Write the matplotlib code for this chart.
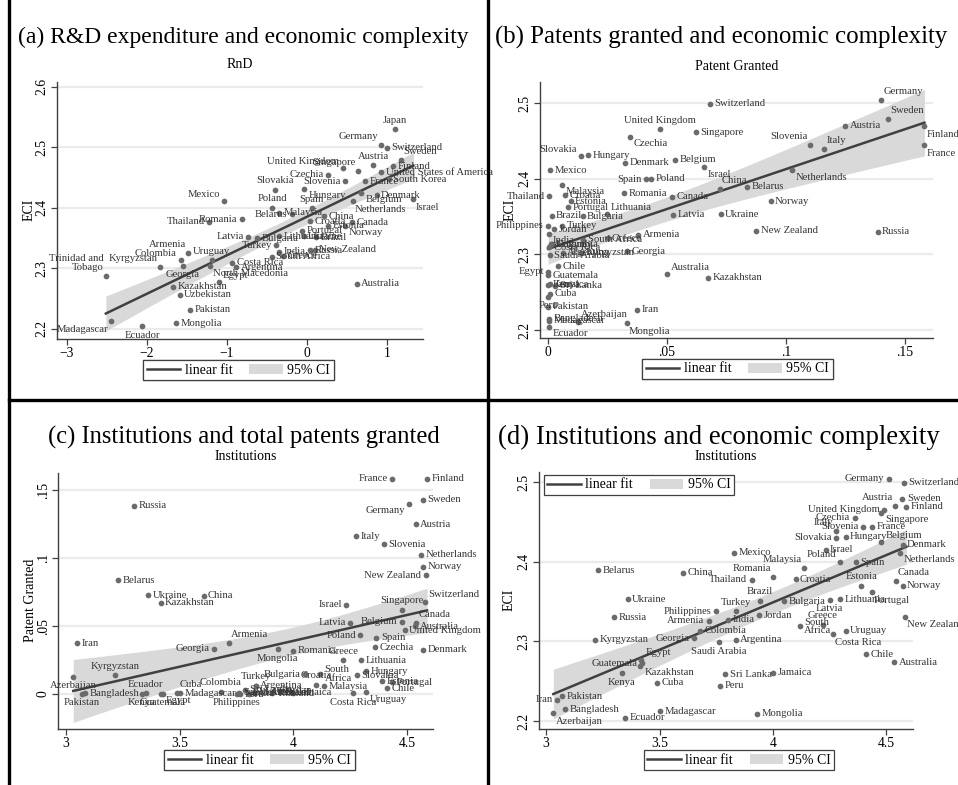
import matplotlib.pyplot as plt
import numpy as np
from matplotlib.lines import Line2D
from matplotlib.patches import Patch

plt.rcParams['font.family'] = ['Liberation Serif', 'DejaVu Serif']

# country-level data (nan = not in that panel)
countries = [
    'Germany', 'Switzerland', 'Sweden', 'Finland', 'Austria', 'Japan',
    'United States of America', 'South Korea', 'Singapore', 'United Kingdom',
    'Czechia', 'Slovenia', 'France', 'Italy', 'Slovakia', 'Hungary', 'Denmark',
    'Belgium', 'Israel', 'Netherlands', 'Mexico', 'Malaysia', 'Spain', 'Poland',
    'Romania', 'Canada', 'Thailand', 'Croatia', 'Estonia', 'Portugal',
    'Lithuania', 'Latvia', 'Brazil', 'Bulgaria', 'Philippines', 'Turkey',
    'Jordan', 'India', 'Greece', 'South Africa', 'Armenia', 'Georgia',
    'Kyrgyzstan', 'Saudi Arabia', 'Colombia', 'Argentina', 'Uruguay',
    'Costa Rica', 'Egypt', 'Chile', 'Guatemala', 'Jamaica', 'Sri Lanka',
    'Kenya', 'Cuba', 'Peru', 'Pakistan', 'Iran', 'Bangladesh', 'Azerbaijan',
    'Madagascar', 'Ecuador', 'Mongolia', 'Australia', 'Kazakhstan', 'China',
    'Belarus', 'Norway', 'Ukraine', 'New Zealand', 'Russia',
    'Trinidad and Tobago', 'North Macedonia', 'Uzbekistan',
]
eci = [
    2.504, 2.499, 2.479, 2.469, 2.470, 2.530,
    2.459, 2.447, 2.461, 2.465,
    2.455, 2.444, 2.444, 2.439, 2.430, 2.431, 2.421,
    2.425, 2.415, 2.411, 2.411, 2.392, 2.399, 2.400,
    2.381, 2.376, 2.377, 2.378, 2.370, 2.362,
    2.353, 2.352, 2.351, 2.350, 2.338, 2.338,
    2.333, 2.327, 2.321, 2.319, 2.326, 2.304,
    2.302, 2.299, 2.313, 2.302, 2.313,
    2.309, 2.277, 2.284, 2.2725, 2.2606, 2.2586,
    2.260, 2.248, 2.244, 2.231, 2.227, 2.215, 2.210,
    2.212, 2.204, 2.209, 2.274, 2.269, 2.386,
    2.389, 2.370, 2.353, 2.331, 2.330,
    2.288, 2.303, 2.256,
]
rnd = [
    0.92, 1.00, 1.18, 1.08, 0.83, 1.10,
    0.93, 1.02, 0.64, 0.45,
    0.27, 0.48, 0.73, np.nan, -0.40, -0.03, 0.87,
    0.68, 1.33, 0.57, -1.03, -0.35, 0.06, -0.43,
    -0.81, 0.56, -1.22, 0.04, 0.27, -0.06,
    -0.35, -0.73, 0.12, -0.62, np.nan, -0.38,
    np.nan, -0.35, -0.30, -0.44, -1.48, -1.55,
    -1.83, np.nan, -1.575, -0.88, -1.19,
    -0.93, -1.10, np.nan, np.nan, np.nan, np.nan,
    np.nan, np.nan, np.nan, -1.46, np.nan, np.nan, np.nan,
    -2.45, -2.06, -1.63, 0.62, -1.67, 0.22,
    -0.19, 0.47, -0.04, 0.10, 0.04,
    -2.51, -1.215, -1.59,
]
patents = [
    0.1400, 0.0680, 0.1430, 0.1582, 0.1250, np.nan,
    np.nan, np.nan, 0.0620, 0.0470,
    0.0345, 0.1100, 0.1582, 0.1160, 0.0138, 0.0168, 0.0325,
    0.0533, 0.0655, 0.1025, 0.0010, 0.0058, 0.0413, 0.0432,
    0.0318, 0.0520, 0.0005, 0.0070, 0.0095, 0.0085,
    0.0248, 0.0525, 0.0015, 0.0145, 0.0000, 0.0060,
    0.0025, 0.0003, 0.0250, 0.0148, 0.0378, 0.0332,
    0.0140, 0.0008, 0.0017, 0.0062, 0.0012,
    0.0005, 0.0000, 0.0042, 0.0000, 0.0010, 0.0030,
    0.0000, 0.0010, 0.0000, 0.0000, 0.0375, 0.0005, 0.0127,
    0.0005, 0.0005, 0.0330, 0.0500, 0.0672, 0.0722,
    0.0835, 0.0935, 0.0725, 0.0875, 0.1385,
    np.nan, np.nan, np.nan,
]
institutions = [
    4.510, 4.577, 4.570, 4.588, 4.538, np.nan,
    np.nan, np.nan, 4.478, 4.491,
    4.360, 4.398, 4.435, 4.277, 4.278, 4.320, 4.571,
    4.478, 4.232, 4.560, 3.828, 4.135, 4.365, 4.295,
    4.000, 4.540, 3.906, 4.100, 4.390, 4.435,
    4.297, 4.250, 3.943, 4.050, 3.750, 3.835,
    3.940, 3.803, 4.220, 4.118, 3.717, 3.652,
    3.215, 3.763, 3.680, 3.835, 4.320,
    4.264, 3.420, 4.412, 3.425, 4.000, 3.789,
    3.333, 3.490, 3.767, 3.071, 3.050, 3.084, 3.032,
    3.502, 3.350, 3.931, 4.535, 3.416, 3.605,
    3.230, 4.571, 3.360, 4.582, 3.300,
    np.nan, np.nan, np.nan,
]

titles = ['(a) R&D expenditure and economic complexity',
          '(b) Patents granted and economic complexity',
          '(c) Institutions and total patents granted',
          '(d) Institutions and economic complexity']
subtitles = ['RnD', 'Patent Granted', 'Institutions', 'Institutions']

# label clock positions (Stata style, default 3 o'clock)
pos_a = {'Japan': 12, 'Germany': 11, 'Sweden': 1, 'Singapore': 11, 'Austria': 12,
         'United Kingdom': 10, 'Czechia': 9, 'Slovenia': 9, 'Slovakia': 12,
         'Hungary': 4, 'Israel': 5, 'Belgium': 4, 'Netherlands': 5, 'Poland': 12,
         'Spain': 12, 'Romania': 9, 'Belarus': 9, 'Norway': 4, 'Latvia': 9,
         'Turkey': 9, 'Uruguay': 12, 'North Macedonia': 4, 'Egypt': 2,
         'Mexico': 10, 'Thailand': 9, 'Armenia': 11, 'Colombia': 10,
         'Kyrgyzstan': 11, 'Georgia': 6, 'Trinidad and Tobago': 11,
         'Madagascar': 7, 'Ecuador': 6}
pos_b = {'United Kingdom': 12, 'Czechia': 4, 'Slovakia': 10, 'Israel': 4,
         'Malaysia': 4, 'Spain': 9, 'Thailand': 9, 'Lithuania': 2,
         'Philippines': 9, 'India': 4, 'Egypt': 9, 'Peru': 6, 'Azerbaijan': 1,
         'Ecuador': 4, 'Mongolia': 5, 'Australia': 2, 'Germany': 1, 'Sweden': 1,
         'Finland': 5, 'France': 5, 'Slovenia': 11, 'Italy': 1,
         'Netherlands': 4, 'China': 1}
pos_c = {'Georgia': 9, 'Armenia': 1, 'Kyrgyzstan': 12, 'Azerbaijan': 6,
         'France': 9, 'Germany': 8, 'New Zealand': 9, 'Switzerland': 2,
         'Israel': 9, 'Singapore': 12, 'Latvia': 9, 'Belgium': 9, 'Canada': 1,
         'Poland': 9, 'Mongolia': 6, 'Greece': 12, 'Bulgaria': 9, 'Croatia': 12,
         'Uruguay': 4, 'Costa Rica': 6, 'Turkey': 12, 'Colombia': 12,
         'Cuba': 1, 'Ecuador': 12, 'Kenya': 6, 'Egypt': 4, 'Guatemala': 6,
         'Pakistan': 6, 'Philippines': 6}
pos_d = {'Philippines': 9, 'Armenia': 9, 'Georgia': 9, 'Guatemala': 9,
         'Egypt': 2, 'Kazakhstan': 4, 'Kenya': 6, 'Iran': 9, 'Azerbaijan': 5,
         'Saudi Arabia': 6, 'Greece': 12, 'Costa Rica': 5, 'New Zealand': 5,
         'Germany': 9, 'United Kingdom': 9, 'Austria': 11, 'Singapore': 4,
         'Czechia': 9, 'Italy': 11, 'Slovenia': 9, 'Slovakia': 9, 'Belgium': 2,
         'Netherlands': 4, 'Poland': 10, 'Malaysia': 11, 'Romania': 11,
         'Thailand': 9, 'Estonia': 12, 'Canada': 1, 'Portugal': 5,
         'Brazil': 12, 'Latvia': 6, 'Turkey': 12}
wrap_a = {'Trinidad and Tobago': 'Trinidad and\nTobago'}
wrap_cd = {'South Africa': 'South\nAfrica'}

dot_col = '#6b6b6b'
txt_col = '#353535'
fit_col = '#404040'
ci_col = '#d9d9d9'


def clock(p, r=3.2):
    ang = np.deg2rad(p * 30)
    dx, dy = r * np.sin(ang), r * np.cos(ang)
    ha = 'left' if dx > 0.5 else 'right' if dx < -0.5 else 'center'
    va = 'bottom' if dy > 0.5 else 'top' if dy < -0.5 else 'center'
    return dx, dy, ha, va


def draw_panel(ax, xv, yv, pos, wrap):
    xv = np.array(xv, dtype=float)
    yv = np.array(yv, dtype=float)
    ok = ~np.isnan(xv) & ~np.isnan(yv)
    x, y = xv[ok], yv[ok]
    names = [c for c, k in zip(countries, ok) if k]
    # linear fit with 95% CI of the mean
    b, a = np.polyfit(x, y, 1)
    n = len(x)
    s = np.sqrt(np.sum((y - (a + b * x)) ** 2) / (n - 2))
    xs = np.linspace(x.min(), x.max(), 100)
    se = s * np.sqrt(1 / n + (xs - x.mean()) ** 2 / np.sum((x - x.mean()) ** 2))
    t = 1.96 + 2.4 / (n - 2)
    ax.fill_between(xs, a + b * xs - t * se, a + b * xs + t * se,
                    color=ci_col, lw=0, zorder=1)
    ax.plot(xs, a + b * xs, color=fit_col, lw=1.8, zorder=2)
    ax.scatter(x, y, s=17, color=dot_col, lw=0, zorder=3)
    for xi, yi, nm in zip(x, y, names):
        dx, dy, ha, va = clock(pos.get(nm, 3))
        ax.annotate(wrap.get(nm, nm), (xi, yi), xytext=(dx, dy),
                    textcoords='offset points', ha=ha, va=va,
                    fontsize=7.7, color=txt_col, zorder=4, linespacing=0.9)


def style(ax, xlim, ylim, xt, xtl, yt, ytl):
    ax.set_xlim(xlim)
    ax.set_ylim(ylim)
    ax.set_xticks(xt)
    ax.set_xticklabels(xtl)
    ax.set_yticks(yt)
    ax.set_yticklabels(ytl, rotation=90, va='center')
    for sp in ['top', 'right']:
        ax.spines[sp].set_visible(False)
    for sp in ['left', 'bottom']:
        ax.spines[sp].set_color('#404040')
        ax.spines[sp].set_linewidth(1.0)
    ax.tick_params(direction='out', length=4, width=0.9, color='#404040',
                   labelsize=9.8, pad=2)
    ax.grid(axis='y', color='#ebebeb', lw=1.6)
    ax.set_axisbelow(True)


W, H = 958, 785
fig = plt.figure(figsize=(W / 100, H / 100), dpi=100)


def box(l, r, t, b):
    return [l / W, 1 - b / H, (r - l) / W, (b - t) / H]


ax_a = fig.add_axes(box(57, 423, 82, 339))
ax_b = fig.add_axes(box(540, 933, 82, 338))
ax_c = fig.add_axes(box(58, 433, 473, 729))
ax_d = fig.add_axes(box(539, 913, 472, 729))

draw_panel(ax_a, rnd, eci, pos_a, wrap_a)
draw_panel(ax_b, patents, eci, pos_b, {})
draw_panel(ax_c, institutions, patents, pos_c, wrap_cd)
draw_panel(ax_d, institutions, eci, pos_d, wrap_cd)

style(ax_a, (-3.12, 1.45), (2.183, 2.608), [-3, -2, -1, 0, 1],
      ['\u22123', '\u22122', '\u22121', '0', '1'],
      [2.2, 2.3, 2.4, 2.5, 2.6], ['2.2', '2.3', '2.4', '2.5', '2.6'])
style(ax_b, (-0.0034, 0.1618), (2.1894, 2.5277), [0, 0.05, 0.1, 0.15],
      ['0', '.05', '.1', '.15'], [2.2, 2.3, 2.4, 2.5],
      ['2.2', '2.3', '2.4', '2.5'])
style(ax_c, (2.965, 4.614), (-0.0257, 0.1625), [3, 3.5, 4, 4.5],
      ['3', '3.5', '4', '4.5'], [0, 0.05, 0.1, 0.15],
      ['0', '.05', '.1', '.15'])
style(ax_d, (2.969, 4.617), (2.19, 2.5125), [3, 3.5, 4, 4.5],
      ['3', '3.5', '4', '4.5'], [2.2, 2.3, 2.4, 2.5],
      ['2.2', '2.3', '2.4', '2.5'])

# titles, subtitles, y labels
title_pos = [(243, 37, 17), (721.5, 37, 17.9), (244, 437, 17.7), (718.5, 437, 19.3)]
for (cx, cy, fs), txt in zip(title_pos, titles):
    fig.text(cx / W, 1 - cy / H, txt, fontsize=fs, ha='center', va='center')
for (cx, cy), txt in zip([(240, 65), (737, 66), (246, 457), (726, 457)], subtitles):
    fig.text(cx / W, 1 - cy / H, txt, fontsize=10, ha='center', va='center')
for (cx, cy), txt in zip([(29, 210), (510, 210), (30, 600), (509, 600)],
                         ['ECI', 'ECI', 'Patent Granted', 'ECI']):
    fig.text(cx / W, 1 - cy / H, txt, fontsize=10, ha='center', va='center',
             rotation=90)

# legends
handles = [Line2D([], [], color=fit_col, lw=1.8), Patch(color=ci_col, lw=0)]
labels = ['linear fit', '95% CI']
for ax, (cx, cy) in zip([ax_a, ax_b, ax_c, ax_d],
                        [(238.5, 370), (737.5, 369), (259.5, 760), (739, 760)]):
    leg = ax.legend(handles, labels, ncol=2, loc='center',
                    bbox_to_anchor=(cx / W, 1 - cy / H),
                    bbox_transform=fig.transFigure, fontsize=10,
                    frameon=True, fancybox=False, edgecolor='#404040',
                    framealpha=1, borderpad=0.25, handlelength=2.4,
                    handleheight=0.7, handletextpad=0.35, columnspacing=1.2,
                    borderaxespad=0)
    leg.get_frame().set_linewidth(0.9)
    ax.add_artist(leg)
top_leg = ax_d.legend(handles, labels, ncol=2, loc='center',
                      bbox_to_anchor=(639 / W, 1 - 485 / H),
                      bbox_transform=fig.transFigure, fontsize=10,
                      frameon=True, fancybox=False, edgecolor='#404040',
                      framealpha=1, borderpad=0.25, handlelength=2.4,
                      handleheight=0.7, handletextpad=0.35, columnspacing=1.2)
top_leg.get_frame().set_linewidth(0.9)

# panel frame lines
frame = dict(color='black', lw=2.4, transform=fig.transFigure)
fig.add_artist(Line2D([9 / W, 9 / W], [0, 1], **frame))
fig.add_artist(Line2D([488 / W, 488 / W], [0, 1], **frame))
fig.add_artist(Line2D([9 / W, 1], [1 - 400 / H, 1 - 400 / H], **frame))

fig.savefig('out.png', dpi=100)
